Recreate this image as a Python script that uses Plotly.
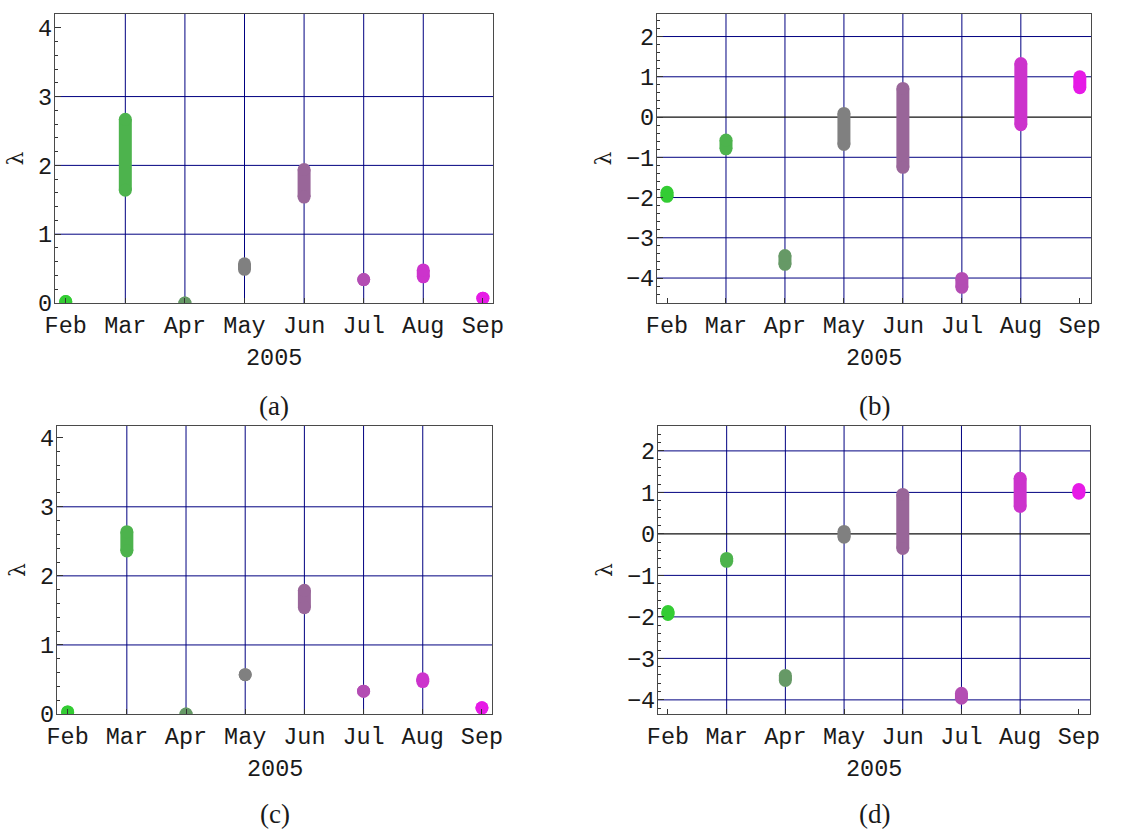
import plotly.graph_objects as go

months = ["Feb", "Mar", "Apr", "May", "Jun", "Jul", "Aug", "Sep"]
month_colors = ["#33CC33", "#4DB34D", "#669966", "#808080",
                "#996699", "#B34DB3", "#CC33CC", "#E61AE6"]

# (low, high) ranges of lambda per month for each panel
a_lo = [0.02, 1.64, 0.00, 0.49, 1.54, 0.34, 0.38, 0.07]
a_hi = [0.02, 2.67, 0.00, 0.57, 1.94, 0.34, 0.48, 0.07]
b_lo = [-1.97, -0.79, -3.66, -0.68, -1.25, -4.23, -0.19, 0.73]
b_hi = [-1.87, -0.57, -3.44, 0.09, 0.71, -4.01, 1.33, 1.00]
c_lo = [0.03, 2.36, 0.00, 0.57, 1.54, 0.33, 0.47, 0.09]
c_hi = [0.03, 2.64, 0.00, 0.57, 1.79, 0.33, 0.51, 0.09]
d_lo = [-1.94, -0.66, -3.53, -0.08, -0.35, -3.96, 0.66, 0.98]
d_hi = [-1.87, -0.59, -3.41, 0.06, 0.95, -3.84, 1.34, 1.07]

panel_labels = ["(a)", "(b)", "(c)", "(d)"]
year_label = "2005"
y_label = "λ"

W, H = 1145, 831
# plot area boxes in pixels: left, right, top, bottom
boxes = [(55, 493, 14, 303), (657, 1091, 14, 303),
         (57, 492, 426, 714), (658, 1090, 426, 714)]
yranges = [[0, 4.2], [-4.62, 2.56], [0, 4.17], [-4.34, 2.6]]
yticks = [[0, 1, 2, 3, 4], [-4, -3, -2, -1, 0, 1, 2],
          [0, 1, 2, 3, 4], [-4, -3, -2, -1, 0, 1, 2]]
hgrids = [[1, 2, 3], [-4, -3, -2, -1, 1, 2], [1, 2, 3], [-4, -3, -2, -1, 1, 2]]
data = [(a_lo, a_hi), (b_lo, b_hi), (c_lo, c_hi), (d_lo, d_hi)]
xranges = [[-0.18, 7.17], [-0.17, 7.19], [-0.18, 7.17], [-0.17, 7.19]]

NAVY = "#000080"
FRAME = "#4a4a4a"
MONO = "Liberation Mono"
FS = 23.5

fig = go.Figure()
layout = dict(width=W, height=H, margin=dict(l=0, r=0, t=0, b=0),
              paper_bgcolor="white", plot_bgcolor="white", showlegend=False)
shapes = []
annotations = []

for p in range(4):
    xa = "x" if p == 0 else f"x{p+1}"
    ya = "y" if p == 0 else f"y{p+1}"
    xkey = "xaxis" if p == 0 else f"xaxis{p+1}"
    ykey = "yaxis" if p == 0 else f"yaxis{p+1}"
    l, r, t, b = boxes[p]
    lo, hi = data[p]
    for i, m in enumerate(months):
        fig.add_trace(go.Scatter(
            x=[i, i], y=[lo[i], hi[i]], xaxis=xa, yaxis=ya,
            mode="lines+markers",
            line=dict(color=month_colors[i], width=13),
            marker=dict(color=month_colors[i], size=13, line=dict(width=0)),
            hoverinfo="skip"))
    layout[xkey] = dict(
        domain=[l / W, r / W], anchor=ya, range=xranges[p], automargin=False,
        tickmode="array", tickvals=list(range(len(months))), ticktext=months,
        ticks="inside", ticklen=5, tickcolor="#333", showgrid=False,
        zeroline=False, showline=True, mirror=True, linecolor=FRAME, linewidth=1.3,
        tickfont=dict(family=MONO, size=FS, color="#1a1a1a"),
        ticklabelstandoff=1, fixedrange=True)
    layout[ykey] = dict(
        domain=[(H - b) / H, (H - t) / H], anchor=xa, range=yranges[p], automargin=False,
        tickmode="array", tickvals=yticks[p],
        ticktext=[("−" + str(-v)) if v < 0 else str(v) for v in yticks[p]],
        ticks="inside", ticklen=6, tickcolor="#333",
        minor=dict(ticks="inside", ticklen=3, dtick=0.2, tickcolor="#333", showgrid=False),
        showgrid=False, zeroline=False, showline=True, mirror=True,
        linecolor=FRAME, linewidth=1.3,
        tickfont=dict(family=MONO, size=FS, color="#1a1a1a"),
        ticklabelstandoff=-3, fixedrange=True)
    # vertical grid lines at the inner months
    for i in range(1, len(months) - 1):
        shapes.append(dict(type="line", xref=xa, yref=f"{ya} domain",
                           x0=i, x1=i, y0=0, y1=1, layer="below",
                           line=dict(color=NAVY, width=1)))
    for v in hgrids[p]:
        shapes.append(dict(type="line", xref=f"{xa} domain", yref=ya,
                           x0=0, x1=1, y0=v, y1=v, layer="below",
                           line=dict(color=NAVY, width=1)))
    if yranges[p][0] < 0 < yranges[p][1]:
        shapes.append(dict(type="line", xref=f"{xa} domain", yref=ya,
                           x0=0, x1=1, y0=0, y1=0, layer="below",
                           line=dict(color="#111111", width=1.2)))
    # labels
    annotations.append(dict(text=year_label, xref=f"{xa} domain", yref=f"{ya} domain",
                            x=0.5, y=0, yshift=-55, showarrow=False,
                            xanchor="center", yanchor="middle",
                            font=dict(family=MONO, size=FS, color="#1a1a1a")))
    lab_shift = -103 if p < 2 else -100
    annotations.append(dict(text=panel_labels[p], xref=f"{xa} domain", yref=f"{ya} domain",
                            x=0.5, y=0, yshift=lab_shift, showarrow=False,
                            xanchor="center", yanchor="middle",
                            font=dict(family="Liberation Serif", size=27, color="#1a1a1a")))
    lam_shift = -40 if p in (0, 2) else -54
    annotations.append(dict(text=y_label, xref=f"{xa} domain", yref=f"{ya} domain",
                            x=0, y=0.5, xshift=lam_shift, showarrow=False, textangle=-90,
                            xanchor="center", yanchor="middle",
                            font=dict(family="DejaVu Serif", size=22, color="#1a1a1a")))

layout["shapes"] = shapes
layout["annotations"] = annotations
fig.update_layout(**layout)
fig.write_html("out.html")
